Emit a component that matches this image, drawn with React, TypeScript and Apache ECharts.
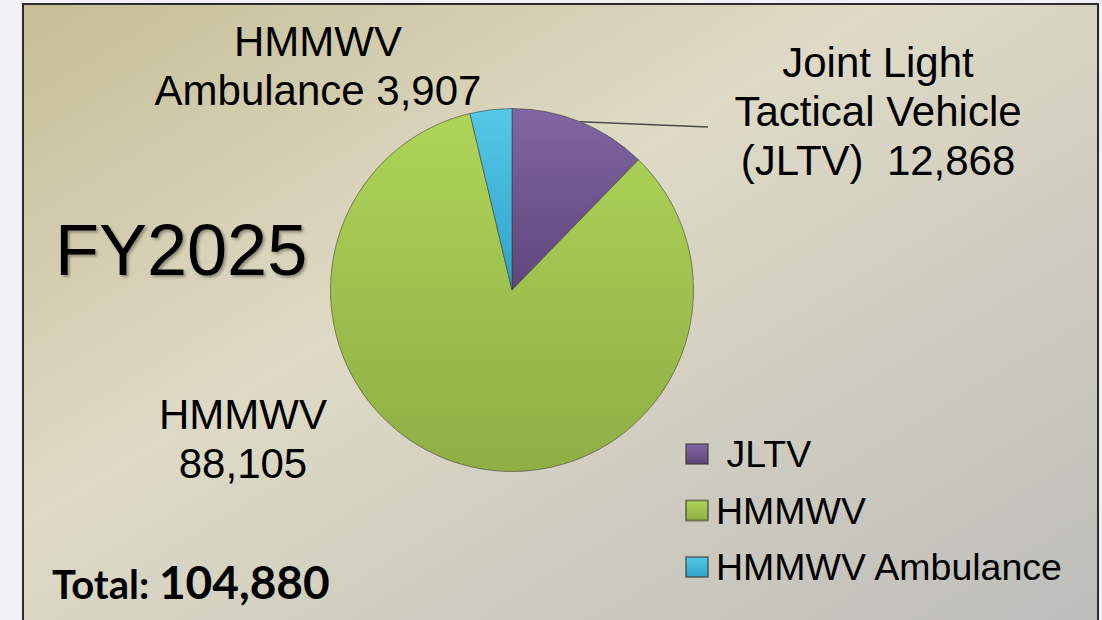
import React, { useEffect, useRef } from "react";
import * as echarts from "echarts";

// ---- data ----
const categories = ["JLTV", "HMMWV", "HMMWV Ambulance"];
const values = [12868, 88105, 3907];
const labelPrefixes = ["Joint Light\nTactical Vehicle\n(JLTV)  ", "HMMWV\n", "HMMWV\nAmbulance "];
const legendLabels = [" JLTV", "HMMWV", "HMMWV Ambulance"];
const titleText = "FY2025";
const totalPrefix = "Total: ";

// ---- layout / style ----
const PIE_CENTER = [512, 290];
const PIE_RADIUS = 181.5;
const labelAnchors = [
  [878, 111],
  [243, 439],
  [318, 66],
];
const leaderEnd = [708, 127];
const sliceColors = [
  ["#8166a3", "#5f467c"],
  ["#aed458", "#8fae45"],
  ["#55c8e8", "#2ea3ca"],
];
const FONT = "'Liberation Sans', Arial, sans-serif";

const fmt = (n: number) => n.toLocaleString("en-US");

export default function App() {
  const ref = useRef<HTMLDivElement>(null);

  useEffect(() => {
    if (!ref.current) return;
    const chart = echarts.init(ref.current, undefined, { renderer: "svg" });
    const total = values.reduce((a, b) => a + b, 0);

    const grad = (c: string[]) =>
      new echarts.graphic.LinearGradient(0, 0, 0, 1, [
        { offset: 0, color: c[0] },
        { offset: 1, color: c[1] },
      ]);

    // fallback leader start: arc midpoint of first slice
    const midFrac = values[0] / 2 / total;
    const midAngle = Math.PI / 2 - midFrac * 2 * Math.PI;
    const leaderStartFallback = [
      PIE_CENTER[0] + PIE_RADIUS * Math.cos(midAngle),
      PIE_CENTER[1] - PIE_RADIUS * Math.sin(midAngle),
    ];

    const option: any = {
      animation: false,
      backgroundColor: "#f1f0f6",
      graphic: [
        {
          type: "rect",
          z: -10,
          silent: true,
          shape: { x: 23, y: 4, width: 1075, height: 650 },
          style: {
            fill: new echarts.graphic.LinearGradient(0, 0, 1, 1, [
              { offset: 0, color: "#c7be96" },
              { offset: 0.4, color: "#dedac6" },
              { offset: 1, color: "#bcbcba" },
            ]),
            stroke: "#2b2b2b",
            lineWidth: 2,
          },
        },
        {
          type: "text",
          left: 55,
          top: 214,
          z: 5,
          style: {
            text: titleText,
            fontSize: 72,
            fontFamily: FONT,
            fill: "#000",
            textShadowColor: "rgba(0,0,0,0.35)",
            textShadowBlur: 3,
            textShadowOffsetX: 2,
            textShadowOffsetY: 2,
          },
        },
        {
          type: "text",
          left: 52,
          top: 558,
          z: 5,
          style: {
            text: `{a|${totalPrefix}}{b|${fmt(total)}}`,
            rich: {
              a: { fontSize: 40, fontWeight: "bold", fontFamily: "Lato, sans-serif", fill: "#000", lineHeight: 50, verticalAlign: "bottom" },
              b: { fontSize: 46, fontWeight: "bold", fontFamily: "Lato, sans-serif", fill: "#000", lineHeight: 50, verticalAlign: "bottom" },
            },
          },
        },
      ],
      legend: {
        orient: "vertical",
        left: 685,
        top: 434,
        padding: 0,
        icon: "rect",
        itemWidth: 22,
        itemHeight: 20,
        itemGap: 16.5,
        selectedMode: false,
        data: categories,
        formatter: (name: string) => legendLabels[categories.indexOf(name)],
        textStyle: {
          fontSize: 37.5,
          lineHeight: 40,
          fontFamily: FONT,
          color: "#000",
          padding: [0, 0, 0, 3],
        },
      },
      series: [
        {
          type: "pie",
          center: PIE_CENTER,
          radius: PIE_RADIUS,
          startAngle: 90,
          clockwise: true,
          avoidLabelOverlap: false,
          itemStyle: {
            borderColor: "rgba(60,55,40,0.55)",
            borderWidth: 1,
          },
          label: {
            show: true,
            position: "outside",
            fontSize: 42,
            lineHeight: 49,
            fontFamily: FONT,
            color: "#000",
            align: "center",
            formatter: (p: any) => labelPrefixes[p.dataIndex] + fmt(p.value),
          },
          labelLine: { show: false },
          labelLayout: (p: any) => {
            const i = p.dataIndex;
            const out: any = {
              x: labelAnchors[i][0],
              y: labelAnchors[i][1],
              align: "center",
              verticalAlign: "middle",
            };
            if (i === 0) {
              const start = p.labelLinePoints && p.labelLinePoints[0] ? p.labelLinePoints[0] : leaderStartFallback;
              out.labelLinePoints = [start, leaderEnd];
            }
            return out;
          },
          data: categories.map((name, i) => ({
            name,
            value: values[i],
            itemStyle: { color: grad(sliceColors[i]) },
            labelLine:
              i === 0
                ? { show: true, length: 10, length2: 10, lineStyle: { color: "#4a4a4a", width: 1.5 } }
                : { show: false },
          })),
        },
      ],
    };

    chart.setOption(option);
    return () => chart.dispose();
  }, []);

  return (
    <div
      ref={ref}
      style={{ position: "absolute", left: 0, top: 0, width: 1102, height: 620 }}
    />
  );
}
